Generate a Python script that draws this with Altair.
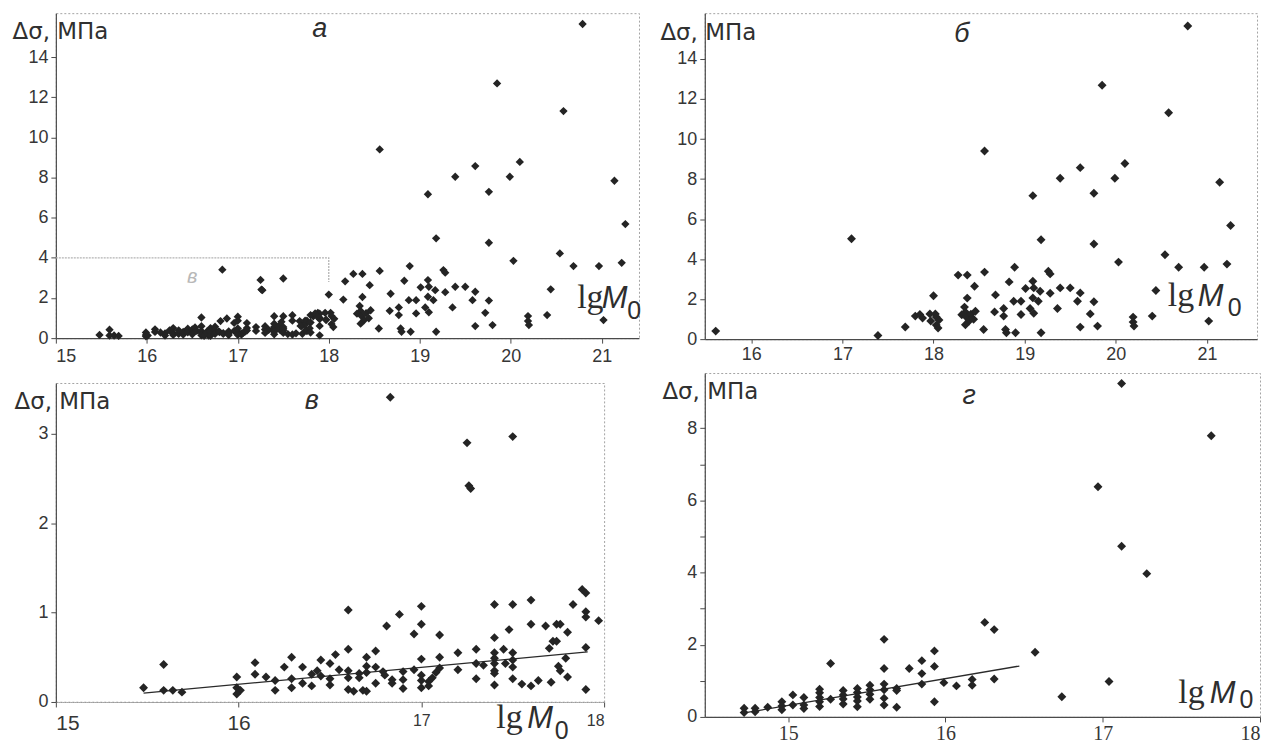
import altair as alt
import pandas as pd

# ---------------- panel в (also the left cluster of panel а) ----------------
v_x = [15.48, 15.59, 15.59, 15.64, 15.69,
       15.99, 15.99, 16.01, 15.99,
       16.09, 16.09, 16.15, 16.20, 16.20,
       16.25, 16.29, 16.29, 16.29, 16.35, 16.35,
       16.40, 16.40, 16.43, 16.45, 16.45,
       16.50, 16.50, 16.50, 16.53, 16.55,
       16.60, 16.60, 16.60, 16.60, 16.60,
       16.63, 16.66, 16.66, 16.68,
       16.70, 16.70, 16.70, 16.70,
       16.75, 16.75, 16.75,
       16.79, 16.80, 16.81, 16.84, 16.84,
       16.83,
       16.88, 16.90, 16.90, 16.90,
       16.96, 16.96,
       17.00, 17.00, 17.00, 17.00, 17.00, 17.00,
       17.04, 17.04, 17.06, 17.08,
       17.10, 17.10, 17.10,
       17.20, 17.20,
       17.25, 17.26, 17.27,
       17.30, 17.30, 17.34, 17.30,
       17.40, 17.40, 17.40, 17.40, 17.40, 17.40, 17.40, 17.40,
       17.45, 17.46, 17.48,
       17.50,
       17.50, 17.50, 17.50, 17.50, 17.50,
       17.55, 17.60, 17.60, 17.60, 17.64,
       17.68, 17.70, 17.71, 17.72, 17.74, 17.74, 17.75, 17.76, 17.76,
       17.80, 17.79, 17.80, 17.83,
       17.88, 17.90, 17.90, 17.90, 17.90, 17.90, 17.97]
v_y = [0.16, 0.42, 0.13, 0.13, 0.11,
       0.28, 0.16, 0.13, 0.09,
       0.44, 0.31, 0.28, 0.24, 0.13,
       0.39, 0.50, 0.26, 0.16, 0.21, 0.39,
       0.18, 0.31, 0.35, 0.47, 0.29,
       0.43, 0.26, 0.19, 0.53, 0.36,
       1.03, 0.59, 0.35, 0.27, 0.14,
       0.12, 0.32, 0.27, 0.13,
       0.50, 0.40, 0.33, 0.12,
       0.57, 0.39, 0.21,
       0.34, 0.30, 0.85, 0.25, 0.21,
       3.41,
       0.98, 0.34, 0.25, 0.15,
       0.76, 0.36,
       1.07, 0.87, 0.48, 0.30, 0.24, 0.16,
       0.23, 0.18, 0.27, 0.33,
       0.75, 0.50, 0.38,
       0.55, 0.36,
       2.90, 2.42, 2.39,
       0.59, 0.43, 0.41, 0.26,
       1.09, 0.72, 0.55, 0.49, 0.43, 0.35, 0.32, 0.19,
       0.59, 0.43, 0.81,
       2.97,
       1.09, 0.55, 0.47, 0.39, 0.26,
       0.20, 1.14, 0.87, 0.18, 0.24,
       0.85, 0.60, 0.22, 0.68, 0.87, 0.68, 0.40, 0.87, 0.35,
       0.78, 0.49, 0.28, 1.09,
       1.26, 1.22, 1.01, 0.95, 0.61, 0.14, 0.91]

# ---------------- panel б ----------------
b_lo_x = [15.61, 17.10, 17.39]
b_lo_y = [0.40, 5.02, 0.18]
b_hi_x = [17.69, 17.80, 17.85, 17.88, 17.96, 17.97, 18.00, 18.02, 18.03, 18.03, 18.06, 18.05,
          18.27, 18.37, 18.45, 18.56, 18.37, 18.34, 18.35, 18.31, 18.36, 18.41, 18.46, 18.39,
          18.35, 18.44, 18.55,
          18.56, 18.68, 18.67, 18.77, 18.77, 18.79, 18.80, 18.83, 18.89, 18.88, 18.90, 18.96, 18.96,
          19.01, 19.06, 19.09, 19.09, 19.10, 19.09, 19.15, 19.10, 19.17, 19.18, 19.18, 19.26,
          19.28, 19.28, 19.36, 19.39, 19.39, 19.50, 19.58, 19.61, 19.61, 19.61, 19.76, 19.76,
          19.76, 19.72, 19.80, 19.85, 19.99, 20.03, 20.10, 20.19, 20.19, 20.20, 20.40, 20.44,
          20.54, 20.58, 20.69, 20.79, 20.97, 21.02, 21.14, 21.22, 21.26]
b_hi_y = [0.61, 1.15, 1.23, 1.05, 1.26, 0.91, 2.17, 1.26, 1.10, 0.70, 0.96, 0.55,
          3.20, 3.20, 2.64, 3.35, 2.05, 1.60, 1.35, 1.22, 1.10, 1.24, 1.39, 0.90,
          0.72, 0.99, 0.48,
          9.40, 2.21, 1.36, 1.53, 1.15, 0.48, 0.32, 2.86, 3.59, 1.89, 0.32, 1.89, 1.23,
          2.53, 1.53, 7.17, 2.89, 2.56, 2.06, 1.89, 1.29, 2.39, 4.97, 0.32, 3.39,
          3.26, 2.29, 1.53, 8.04, 2.56, 2.56, 1.89, 2.31, 8.57, 0.60, 7.29, 4.75,
          1.87, 1.26, 0.65, 12.69, 8.04, 3.85, 8.78, 1.10, 0.85, 0.65, 1.15, 2.43,
          4.22, 11.31, 3.59, 15.65, 3.59, 0.90, 7.84, 3.75, 5.68]

# points seen only in panel а
a_extra_x = [18.16, 18.18]
a_extra_y = [1.92, 2.83]

# ---------------- panel г ----------------
g_x = [14.72, 14.72, 14.79, 14.79, 14.87,
       14.96, 14.96, 14.96,
       15.03, 15.03,
       15.10, 15.10, 15.10,
       15.20, 15.20, 15.20, 15.20, 15.20,
       15.27, 15.27,
       15.35, 15.35, 15.35, 15.35,
       15.44, 15.44, 15.44, 15.44, 15.44,
       15.52, 15.52, 15.52, 15.52,
       15.61, 15.61, 15.61, 15.61, 15.61, 15.61,
       15.69, 15.69, 15.69,
       15.77, 15.85, 15.85, 15.85,
       15.93, 15.93, 15.93,
       15.99, 16.07, 16.17, 16.17,
       16.25, 16.31, 16.31,
       16.57, 16.74, 16.97, 17.04, 17.12, 17.12, 17.28, 17.69]
g_y = [0.24, 0.12, 0.24, 0.14, 0.27,
       0.42, 0.30, 0.20,
       0.61, 0.33,
       0.54, 0.33, 0.23,
       0.77, 0.67, 0.54, 0.42, 0.29,
       1.48, 0.49,
       0.73, 0.61, 0.50, 0.36,
       0.79, 0.68, 0.55, 0.44, 0.28,
       0.88, 0.75, 0.63, 0.49,
       2.15, 1.34, 0.91, 0.75, 0.52, 0.33,
       0.79, 0.73, 0.27,
       1.34, 1.56, 1.20, 0.91,
       1.83, 1.40, 0.42,
       0.95, 0.86, 1.04, 0.88,
       2.62, 2.42, 1.05,
       1.79, 0.56, 6.38, 0.98, 9.24, 4.73, 3.97, 7.79]

# trend lines
v_fit_x = [15.48, 17.91]
v_fit_y = [0.10, 0.56]
g_fit_x = [14.72, 16.47]
g_fit_y = [0.11, 1.41]

# inset outline in panel а (region of panel в)
box_x = [15, 18, 18]
box_y = [4, 4, 2.8]

Y_TITLE = "Δσ, МПа"
PT = "#242424"
TXT = "#2e2e2e"


def encs(xdom, ydom, xaxis, yaxis):
    X = alt.X("x:Q", scale=alt.Scale(domain=xdom, nice=False, zero=False), axis=xaxis)
    Y = alt.Y("y:Q", scale=alt.Scale(domain=ydom, nice=False, zero=False), axis=yaxis)
    return X, Y


def pts(X, Y, xs, ys, size):
    df = pd.DataFrame({"x": xs, "y": ys})
    return alt.Chart(df).mark_point(shape="diamond", filled=True, size=size,
                                    color=PT, opacity=1).encode(x=X, y=Y)


def line(X, Y, xs, ys, color="#2a2a2a", width=1.3, dash=None):
    df = pd.DataFrame({"x": xs, "y": ys, "o": list(range(len(xs)))})
    kw = dict(color=color, strokeWidth=width)
    if dash:
        kw["strokeDash"] = dash
    return alt.Chart(df).mark_line(**kw).encode(x=X, y=Y, order="o:Q")


def txt(X, Y, x, y, s, font, size, style="normal", color=TXT, align="left"):
    df = pd.DataFrame({"x": [x], "y": [y], "t": [s]})
    return alt.Chart(df).mark_text(font=font, fontSize=size, fontStyle=style, color=color,
                                   align=align, baseline="alphabetic").encode(x=X, y=Y, text="t:N")


def lgm0(X, Y, xl, xm, x0, yb, y0):
    return [txt(X, Y, xl, yb, "lg", "Liberation Serif", 34),
            txt(X, Y, xm, yb, "M", "Liberation Sans", 31, style="italic"),
            txt(X, Y, x0, y0, "0", "Liberation Sans", 25)]


def yaxis(values, tx, ty, label_expr=None):
    kw = dict(values=values, title=Y_TITLE, titleAngle=0, titleAlign="left",
              titleBaseline="alphabetic", titleX=tx, titleY=ty, labelFontSize=18,
              labelPadding=3, tickSize=5, format="d")
    if label_expr:
        kw["labelExpr"] = label_expr
    return alt.Axis(**kw)


# ---------------- panel а ----------------
Xa, Ya = encs([15, 21.41], [0, 16.19],
              alt.Axis(values=[15, 16, 17, 18, 19, 20, 21], title=None, labelFontSize=18,
                       labelPadding=4, tickSize=5, format="d"),
              yaxis([0, 2, 4, 6, 8, 10, 12, 14], -44, 25))
panel_a = alt.layer(
    line(Xa, Ya, box_x, box_y, color="#b4b4b4", width=1.3, dash=[2, 1]),
    pts(Xa, Ya, v_x + b_hi_x + a_extra_x, v_y + b_hi_y + a_extra_y, 70),
    txt(Xa, Ya, 17.90, 15.0, "а", "Liberation Sans", 27, style="italic", align="center"),
    txt(Xa, Ya, 16.50, 2.75, "в", "Liberation Sans", 20, style="italic", color="#b8b8b8", align="center"),
    *lgm0(Xa, Ya, 20.73, 21.00, 21.28, 1.49, 0.94),
).properties(width=585, height=326)

# ---------------- panel б ----------------
Xb, Yb = encs([15.49, 21.55], [0, 16.29],
              alt.Axis(values=[16, 17, 18, 19, 20, 21], title=None, labelFontSize=18,
                       labelPadding=2, tickSize=4, format="d"),
              yaxis([0, 2, 4, 6, 8, 10, 12, 14], -45, 26))
panel_b = alt.layer(
    pts(Xb, Yb, b_lo_x + b_hi_x, b_lo_y + b_hi_y, 80),
    txt(Xb, Yb, 18.31, 14.85, "б", "Liberation Sans", 27, style="italic", align="center"),
    *lgm0(Xb, Yb, 20.57, 20.90, 21.23, 1.64, 1.15),
).properties(width=554, height=327)

# ---------------- panel в ----------------
Xv, Yv = encs([15, 18], [0, 3.57],
              alt.Axis(values=[15, 16, 17, 18], title=None,
                       labelFontSize={"condition": {"test": "datum.value >= 17", "value": 16}, "value": 21},
                       labelPadding=6, tickSize=5, format="d", domainColor="#9a9a9a",
                       domainDash=[2, 2]),
              yaxis([0, 1, 2, 3], -42, 26))
panel_v = alt.layer(
    line(Xv, Yv, v_fit_x, v_fit_y),
    pts(Xv, Yv, v_x, v_y, 80),
    txt(Xv, Yv, 16.40, 3.28, "в", "Liberation Sans", 27, style="italic", align="center"),
    *lgm0(Xv, Yv, 17.41, 17.58, 17.73, -0.29, -0.42),
).properties(width=550, height=320)

# ---------------- panel г ----------------
Xg, Yg = encs([14.47, 18], [0, 9.53],
              alt.Axis(values=[15, 16, 17, 18], title=None, labelFont="Liberation Serif",
                       labelFontSize=20, labelPadding=2, tickSize=5, format="d"),
              yaxis([0, 1, 2, 3, 4, 5, 6, 7, 8], -43, 26,
                    label_expr="datum.value % 2 == 0 ? datum.label : ''"))
panel_g = alt.layer(
    line(Xg, Yg, g_fit_x, g_fit_y),
    pts(Xg, Yg, g_x, g_y, 80),
    txt(Xg, Yg, 16.15, 8.67, "г", "Liberation Sans", 27, style="italic", align="center"),
    *lgm0(Xg, Yg, 17.48, 17.68, 17.87, 0.39, 0.25),
).properties(width=557, height=345)

left = alt.vconcat(panel_a, panel_v, spacing=45, bounds="flush")
right = alt.vconcat(panel_b, panel_g, spacing=34, bounds="flush")

chart = alt.hconcat(left, right, spacing=17).properties(
    padding={"left": 3, "top": 3, "right": 3, "bottom": 3},
    background="white",
).configure_view(
    stroke="#a4a4a4", strokeDash=[2, 2], strokeWidth=1
).configure_axis(
    grid=False, labelFont="Liberation Sans", labelColor="#363636",
    domainColor="#4a4a4a", tickColor="#4a4a4a", domainWidth=1.2,
    titleFont="DejaVu Sans", titleFontSize=23, titleFontWeight="normal", titleColor="#303030",
)

chart.save("out.html", embed_options={"renderer": "svg", "actions": False})
